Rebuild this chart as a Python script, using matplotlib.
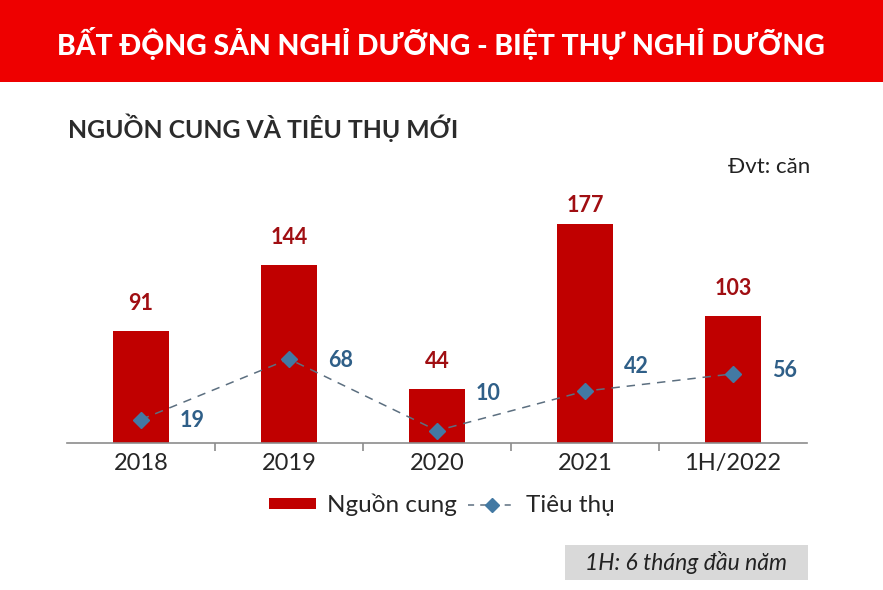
import matplotlib.pyplot as plt
from matplotlib.patches import Rectangle
from matplotlib.lines import Line2D
import numpy as np

# --- DATOS ---
categorias = ["2018", "2019", "2020", "2021", "1H/2022"]
nguon_cung = [91, 144, 44, 177, 103]
tieu_thu = [19, 68, 10, 42, 56]

TITULO = "BẤT ĐỘNG SẢN NGHỈ DƯỠNG - BIỆT THỰ NGHỈ DƯỠNG"
SUBTITULO = "NGUỒN CUNG VÀ TIÊU THỤ MỚI"
UNIDAD = "Đvt: căn"
NOTA = "1H: 6 tháng đầu năm"

ROJO = "#C00000"
ROJO_TXT = "#A00E12"
AZUL = "#4379A3"
AZUL_TXT = "#2F5F88"
GRIS_LINEA = "#5C6F80"

plt.rcParams['font.family'] = ['Lato', 'DejaVu Sans']

W, H = 883, 590
fig = plt.figure(figsize=(W / 100, H / 100), dpi=100)
fig.patch.set_facecolor("white")

# cabecera roja
fig.patches.append(Rectangle((0, 1 - 82 / H), 1, 82 / H, transform=fig.transFigure,
                             facecolor="#EE0000", edgecolor="none", zorder=0))
fig.text(441 / W, 1 - 44 / H, TITULO, color="white", fontsize=20.3, fontweight="black",
         ha="center", va="center")

fig.text(68 / W, 1 - 128 / H, SUBTITULO, color="#2B2B2B", fontsize=17.8, fontweight="bold",
         ha="left", va="center")
fig.text(810 / W, 1 - 167 / H, UNIDAD, color="#222222", fontsize=16,
         ha="right", va="center")

# ejes: base en y=443 px, 1.235 px por unidad
y0 = 443
top = 193
ax = fig.add_axes([67 / W, 1 - y0 / H, 740 / W, (y0 - top) / H])
ymax = (y0 - top) / 1.235
ax.set_ylim(0, ymax)
ax.set_xlim(-0.5, len(categorias) - 0.5)

x = np.arange(len(categorias))
ax.bar(x, nguon_cung, width=0.385, color=ROJO, zorder=2)
ax.plot(x, tieu_thu, linestyle=(0, (5.5, 4.5)), color=GRIS_LINEA, linewidth=1.1,
        marker="D", markersize=8.5, markerfacecolor=AZUL, markeredgecolor=AZUL, zorder=3)

# etiquetas de barras (la más alta queda limitada por el borde superior)
for xi, v in zip(x, nguon_cung):
    ax.text(xi, min(v + 22, 192), str(v), ha="center", va="center",
            fontsize=15.5, fontweight="bold", color=ROJO_TXT)

# etiquetas de la línea: a la derecha, algunas subidas para no chocar con la línea
subida = {2: 37, 3: 25, 4: 3}
for i, (xi, v) in enumerate(zip(x, tieu_thu)):
    ax.annotate(str(v), (xi, v), xytext=(39, subida.get(i, -1)), textcoords="offset pixels",
                ha="left", va="center", fontsize=15.5, fontweight="bold", color=AZUL_TXT)

for s in ["top", "right", "left"]:
    ax.spines[s].set_visible(False)
ax.spines["bottom"].set_color("#8C8C8C")
ax.spines["bottom"].set_linewidth(1.2)
ax.set_yticks([])
ax.set_xticks(x)
ax.set_xticklabels(categorias, fontsize=17, color="#262626")
ax.tick_params(axis="x", length=0, pad=7)
ax.set_xticks(np.arange(0.5, len(categorias) - 1), minor=True)
ax.tick_params(axis="x", which="minor", length=6, width=1.2, color="#8C8C8C")
ax.set_facecolor("none")

# leyenda
h1 = Rectangle((0, 0), 1, 1, facecolor=ROJO, edgecolor="none")
h2 = Line2D([], [], linestyle=(0, (4, 4)), color=GRIS_LINEA, linewidth=1.1,
            marker="D", markersize=7.5, markerfacecolor=AZUL, markeredgecolor=AZUL)
fig.legend([h1, h2], ["Nguồn cung", "Tiêu thụ"], loc="center", bbox_to_anchor=(442 / W, 1 - 505 / H),
           ncol=2, frameon=False, fontsize=17.5, handlelength=1.95, handleheight=0.33,
           columnspacing=0.45, handletextpad=0.45, labelcolor="#262626")

# nota
fig.patches.append(Rectangle((565 / W, 1 - 580 / H), 243 / W, 35 / H, transform=fig.transFigure,
                             facecolor="#D9D9D9", edgecolor="none"))
fig.text(686 / W, 1 - 563 / H, NOTA, fontsize=16.5, style="italic", color="#222222",
         ha="center", va="center")

fig.savefig("out.png", dpi=100, facecolor="white")
